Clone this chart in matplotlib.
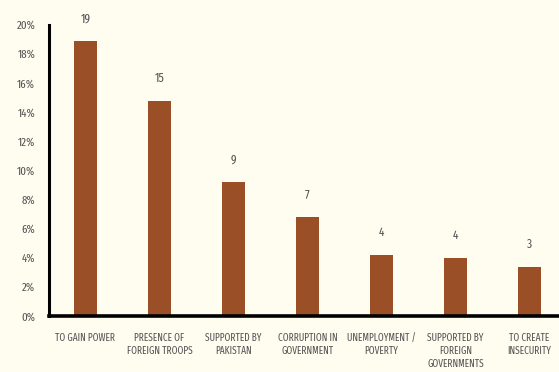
import matplotlib.pyplot as plt
from matplotlib.ticker import FuncFormatter

categories = ["TO GAIN POWER", "PRESENCE OF\nFOREIGN TROOPS", "SUPPORTED BY\nPAKISTAN",
              "CORRUPTION IN\nGOVERNMENT", "UNEMPLOYMENT /\nPOVERTY",
              "SUPPORTED BY\nFOREIGN\nGOVERNMENTS", "TO CREATE\nINSECURITY"]
values = [18.9, 14.8, 9.2, 6.8, 4.2, 4.0, 3.4]
labels = ["19", "15", "9", "7", "4", "4", "3"]
yticks = [0, 2, 4, 6, 8, 10, 12, 14, 16, 18, 20]

bg = "#fffdf0"
bar_color = "#9b4f27"
text_color = "#555555"
font = ["Fira Sans Extra Condensed", "DejaVu Sans"]

fig = plt.figure(figsize=(5.59, 3.72), dpi=100, facecolor=bg)
ax = fig.add_axes([0.088, 0.150, 0.912, 0.783], facecolor=bg)

x = list(range(len(categories)))
ax.bar(x, values, width=0.31, color=bar_color)

for xi, v, lab in zip(x, values, labels):
    ax.annotate(lab, (xi, v), xytext=(0, 16), textcoords="offset points",
                ha="center", va="center", fontsize=9, color=text_color, family=font)

ax.set_xlim(-0.49, 6.4)
ax.set_ylim(0, 20)
ax.set_yticks(yticks)
ax.yaxis.set_major_formatter(FuncFormatter(lambda v, p: f"{int(v)}%"))
ax.set_xticks(x)
ax.set_xticklabels(categories)

for lab in ax.get_xticklabels():
    lab.set_family(font)
    lab.set_fontsize(7.3)
    lab.set_color(text_color)
    lab.set_linespacing(1.25)
for lab in ax.get_yticklabels():
    lab.set_family(font)
    lab.set_fontsize(8.5)
    lab.set_color(text_color)

ax.tick_params(axis="both", length=0)
ax.tick_params(axis="x", pad=12)
ax.tick_params(axis="y", pad=10)

ax.spines["top"].set_visible(False)
ax.spines["right"].set_visible(False)
ax.spines["left"].set_linewidth(2.2)
ax.spines["bottom"].set_linewidth(2.6)

fig.savefig("out.png", dpi=100, facecolor=bg)
